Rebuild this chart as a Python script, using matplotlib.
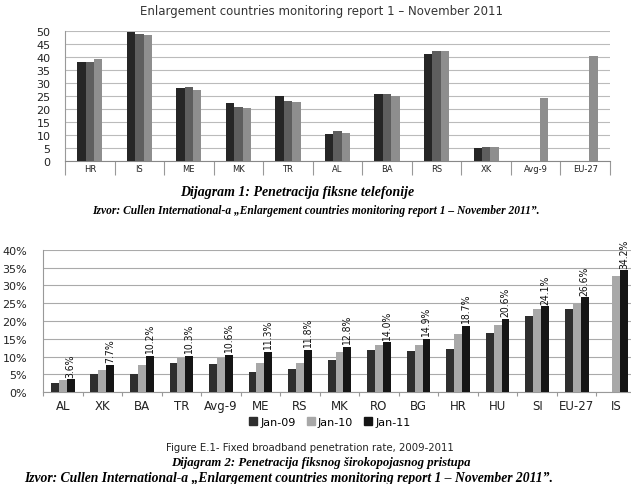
import numpy as np
import matplotlib
matplotlib.use("Agg")
import matplotlib.pyplot as plt
from matplotlib.ticker import FixedLocator, FuncFormatter
import matplotlib.patches as mpatches

# fixed telephony penetration (top chart), three years per country
tel_countries = ["HR", "IS", "ME", "MK", "TR", "AL", "BA", "RS", "XK", "Avg-9", "EU-27"]
tel_y1 = [38.2, 49.6, 28.2, 22.2, 25.1, 10.5, 25.8, 41.3, 5.0, np.nan, np.nan]
tel_y2 = [38.2, 49.0, 28.4, 20.8, 23.2, 11.4, 25.8, 42.3, 5.3, np.nan, np.nan]
tel_y3 = [39.2, 48.3, 27.2, 20.4, 22.6, 10.8, 25.0, 42.3, 5.4, 24.4, 40.3]

# fixed broadband penetration (bottom chart), %
bb_countries = ["AL", "XK", "BA", "TR", "Avg-9", "ME", "RS", "MK", "RO", "BG",
                "HR", "HU", "SI", "EU-27", "IS"]
bb_jan09 = [2.5, 5.0, 5.0, 8.2, 7.9, 5.6, 6.4, 9.1, 12.0, 11.6, 12.1, 16.6, 21.4, 23.3, np.nan]
bb_jan10 = [3.4, 6.2, 7.7, 9.6, 9.5, 8.3, 8.2, 11.4, 13.3, 13.3, 16.4, 19.0, 23.3, 25.0, 32.6]
bb_jan11 = [3.6, 7.7, 10.2, 10.3, 10.6, 11.3, 11.8, 12.8, 14.0, 14.9, 18.7, 20.6, 24.1, 26.6, 34.2]
bb_years = ["Jan-09", "Jan-10", "Jan-11"]

W, H = 631, 485
fig = plt.figure(figsize=(W / 100, H / 100), dpi=100)
fig.patch.set_facecolor("white")

serif = ["Liberation Serif", "DejaVu Serif"]


def fx(px):
	return px / W


def fy(py):
	return 1 - py / H


# ---------------- top chart ----------------
fig.text(fx(322), fy(11), "Enlargement countries monitoring report 1 \u2013 November 2011",
	ha="center", va="center", fontsize=8.5, color="#333333")

ax1 = fig.add_axes([fx(65), fy(162), fx(610) - fx(65), fy(32) - fy(162)])
x = np.arange(len(tel_countries))
bw = 0.17
tel_colors = ["#262626", "#5e5e5e", "#8e8e8e"]
for k, (vals, col) in enumerate(zip([tel_y1, tel_y2, tel_y3], tel_colors)):
	ax1.bar(x + (k - 1) * bw, vals, width=bw, color=col, zorder=3)

ax1.set_xlim(-0.5, len(tel_countries) - 0.5)
ax1.set_ylim(0, 50)
ax1.set_yticks(np.arange(0, 51, 5))
ax1.yaxis.grid(True, color="#bbbbbb", linewidth=0.8, zorder=0)
ax1.tick_params(axis="y", length=0, labelsize=8, pad=10.5, labelcolor="#222222")
ax1.xaxis.set_major_locator(FixedLocator(np.arange(-0.5, len(tel_countries), 1.0)))
ax1.xaxis.set_minor_locator(FixedLocator(x))
ax1.set_xticklabels([], minor=False)
ax1.set_xticklabels(tel_countries, minor=True)
ax1.tick_params(axis="x", which="major", length=10, color="#999999", width=0.8)
ax1.tick_params(axis="x", which="minor", length=0, labelsize=6, pad=2, labelcolor="#222222")
for s in ["top", "right"]:
	ax1.spines[s].set_visible(False)
ax1.spines["left"].set_color("#999999")
ax1.spines["bottom"].set_color("#888888")

fig.text(fx(297), fy(193), "Dijagram 1: Penetracija fiksne telefonije",
	ha="center", va="center", fontsize=10, style="italic", weight="bold", family=serif)
fig.text(fx(316), fy(211),
	"Izvor: Cullen International-a \u201eEnlargement countries monitoring report 1 \u2013 November 2011\u201d.",
	ha="center", va="center", fontsize=8.3, style="italic", weight="bold", family=serif)

# ---------------- bottom chart ----------------
ncat = len(bb_countries)
ax2 = fig.add_axes([fx(43), fy(393.3), (636 - 43) / W, fy(250.7) - fy(393.3)])
x2 = np.arange(ncat)
bw2 = 0.2
bb_colors = ["#2e2e2e", "#a8a8a8", "#151515"]
for k, (vals, col, lab) in enumerate(zip([bb_jan09, bb_jan10, bb_jan11], bb_colors, bb_years)):
	ax2.bar(x2 + (k - 1) * bw2, vals, width=bw2, color=col, label=lab, zorder=3)

for xi, v in zip(x2, bb_jan11):
	ax2.text(xi + bw2, v + 0.8, "%.1f%%" % v, rotation=90, ha="center", va="bottom",
		fontsize=7.5, family="DejaVu Sans", fontstretch="condensed", color="#111111")

ax2.set_xlim(-0.5, ncat - 0.5)
ax2.set_ylim(0, 40)
ax2.set_yticks(np.arange(0, 41, 5))
ax2.yaxis.set_major_formatter(FuncFormatter(lambda v, p: "%d%%" % v))
ax2.yaxis.grid(True, color="#aaaaaa", linewidth=0.8, zorder=0)
ax2.tick_params(axis="y", length=0, labelsize=8, pad=11.5, labelcolor="#222222")
ax2.xaxis.set_major_locator(FixedLocator(np.arange(-0.5, ncat, 1.0)))
ax2.xaxis.set_minor_locator(FixedLocator(x2))
ax2.set_xticklabels([], minor=False)
ax2.set_xticklabels(bb_countries, minor=True)
ax2.tick_params(axis="x", which="major", length=3, color="#999999")
ax2.tick_params(axis="x", which="minor", length=0, labelsize=8.5, pad=4.5, labelcolor="#222222")
for s in ["top", "right"]:
	ax2.spines[s].set_visible(False)
ax2.spines["left"].set_color("#999999")
ax2.spines["bottom"].set_color("#999999")

handles = [mpatches.Patch(color=c, label=l) for c, l in zip(bb_colors, bb_years)]
fig.legend(handles=handles, loc="center", bbox_to_anchor=(fx(330), fy(423)), ncol=3,
	frameon=False, fontsize=8, handlelength=0.7, handleheight=0.7, handletextpad=0.3,
	columnspacing=1.0)

fig.text(fx(310), fy(448), "Figure E.1- Fixed broadband penetration rate, 2009-2011",
	ha="center", va="center", fontsize=7.3, color="#222222")
fig.text(fx(321), fy(463), "Dijagram 2: Penetracija fiksnog \u0161irokopojasnog pristupa",
	ha="center", va="center", fontsize=9.2, style="italic", weight="bold", family=serif)
fig.text(fx(289), fy(479),
	"Izvor: Cullen International-a \u201eEnlargement countries monitoring report 1 \u2013 November 2011\u201d.",
	ha="center", va="center", fontsize=9.8, style="italic", weight="bold", family=serif)

fig.savefig("out.png", dpi=100)
